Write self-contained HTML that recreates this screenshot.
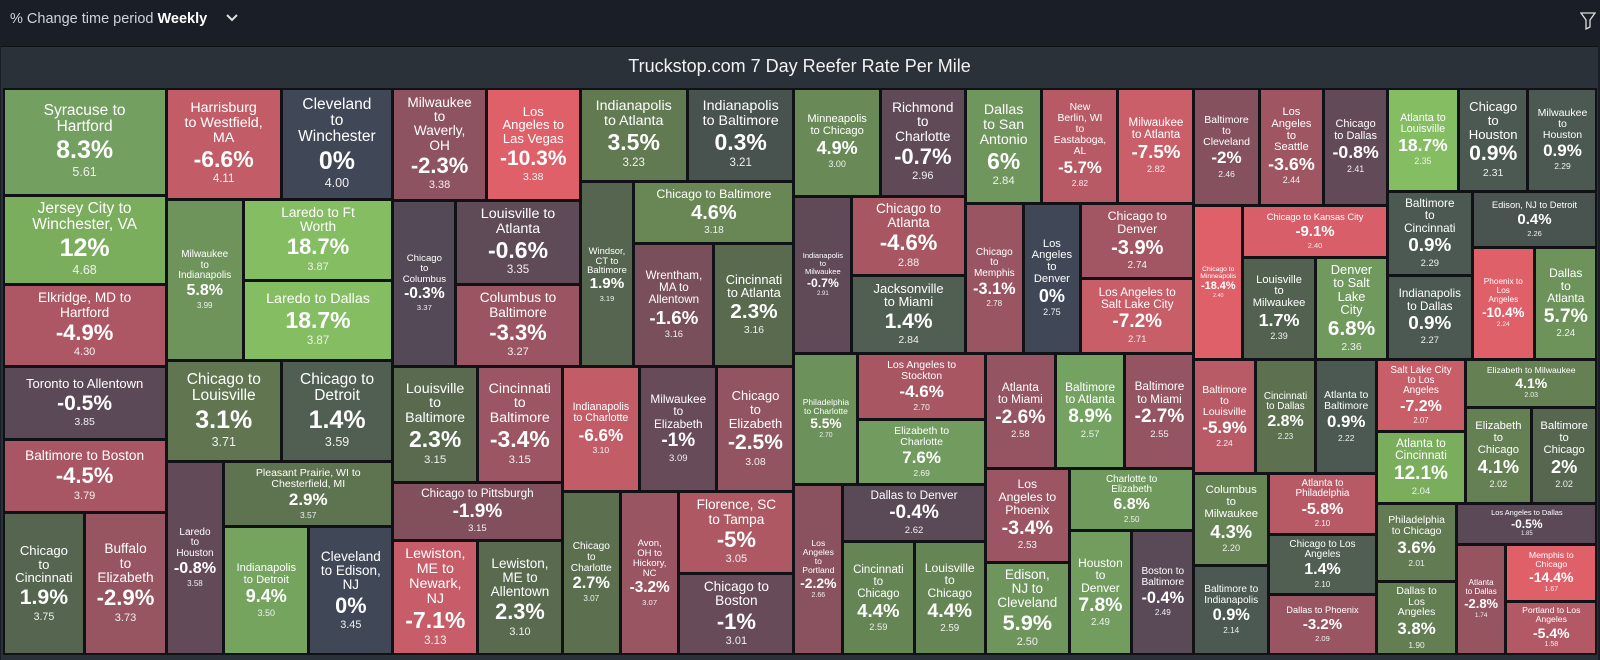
<!DOCTYPE html>
<html><head><meta charset="utf-8">
<style>
html,body{margin:0;padding:0;width:1600px;height:659px;overflow:hidden;background:#1a1f27;font-family:"Liberation Sans",sans-serif;}
#hdr{position:absolute;left:0;top:0;width:1600px;height:46px;background:#1a1f27;}
#hdr .t{position:absolute;left:10px;top:11px;font-size:14.5px;color:#d0d3d8;}
#hdr .t b{color:#fff;}
#panel{position:absolute;left:1px;top:46px;width:1597px;height:613px;background:#2b3139;border-top:1px solid #0e1013;}
#title{position:absolute;left:0;top:9px;width:100%;text-align:center;color:#f2f2f2;font-size:18px;}
#tm{position:absolute;left:3px;top:88px;width:1594px;height:567px;background:#101215;}
.cell{position:absolute;overflow:hidden;display:flex;flex-direction:column;align-items:center;justify-content:center;text-align:center;color:#fff;box-sizing:border-box;padding:2px 4px;}
.cell .lb{line-height:1.05;}
.cell .pc{font-weight:bold;line-height:1.2;}
.cell .rt{line-height:1.2;color:#f0f0f0;}
</style></head><body>
<div id="hdr">
  <div class="t">% Change time period <b>Weekly</b>
    <svg width="14" height="10" style="margin-left:14px" viewBox="0 0 14 10"><path d="M2 2 L7 7 L12 2" stroke="#e0e0e0" stroke-width="2" fill="none"/></svg></div>
  <svg style="position:absolute;left:1580px;top:12px" width="16" height="18" viewBox="0 0 16 18"><path d="M1 1 H15 L10 8 V15 L6 17 V8 Z" stroke="#ddd" stroke-width="1.3" fill="none"/></svg>
</div>
<div id="panel">
  <div id="title">Truckstop.com 7 Day Reefer Rate Per Mile</div>
</div>
<div id="tm"></div>
<script>
const labels=["Syracuse to Hartford","Jersey City to Winchester, VA","Elkridge, MD to Hartford","Toronto to Allentown","Baltimore to Boston","Chicago to Cincinnati","Buffalo to Elizabeth",
"Harrisburg to Westfield, MA","Cleveland to Winchester","Milwaukee to Indianapolis","Laredo to Ft Worth","Laredo to Dallas","Chicago to Louisville","Chicago to Detroit","Laredo to Houston","Pleasant Prairie, WI to Chesterfield, MI","Indianapolis to Detroit","Cleveland to Edison, NJ",
"Milwaukee to Waverly, OH","Los Angeles to Las Vegas","Chicago to Columbus","Louisville to Atlanta","Columbus to Baltimore",
"Indianapolis to Atlanta","Indianapolis to Baltimore","Windsor, CT to Baltimore","Chicago to Baltimore","Wrentham, MA to Allentown","Cincinnati to Atlanta",
"Louisville to Baltimore","Cincinnati to Baltimore","Chicago to Pittsburgh","Lewiston, ME to Newark, NJ","Lewiston, ME to Allentown",
"Indianapolis to Charlotte","Milwaukee to Elizabeth","Chicago to Elizabeth","Chicago to Charlotte","Avon, OH to Hickory, NC","Florence, SC to Tampa","Chicago to Boston",
"Minneapolis to Chicago","Richmond to Charlotte","Indianapolis to Milwaukee","Chicago to Atlanta","Jacksonville to Miami",
"Dallas to San Antonio","New Berlin, WI to Eastaboga, AL","Milwaukee to Atlanta","Chicago to Memphis","Los Angeles to Denver","Chicago to Denver","Los Angeles to Salt Lake City",
"Philadelphia to Charlotte","Los Angeles to Stockton","Elizabeth to Charlotte","Los Angeles to Portland","Dallas to Denver","Cincinnati to Chicago","Louisville to Chicago",
"Atlanta to Miami","Baltimore to Atlanta","Baltimore to Miami","Los Angeles to Phoenix","Edison, NJ to Cleveland","Charlotte to Elizabeth","Houston to Denver","Boston to Baltimore",
"Baltimore to Cleveland","Los Angeles to Seattle","Chicago to Dallas","Chicago to Minneapolis","Chicago to Kansas City","Louisville to Milwaukee","Denver to Salt Lake City",
"Atlanta to Louisville","Chicago to Houston","Milwaukee to Houston","Baltimore to Cincinnati","Indianapolis to Dallas","Edison, NJ to Detroit","Phoenix to Los Angeles","Dallas to Atlanta",
"Baltimore to Louisville","Cincinnati to Dallas","Atlanta to Baltimore","Columbus to Milwaukee","Baltimore to Indianapolis","Atlanta to Philadelphia","Chicago to Los Angeles","Dallas to Phoenix",
"Salt Lake City to Los Angeles","Atlanta to Cincinnati","Elizabeth to Milwaukee","Elizabeth to Chicago","Baltimore to Chicago","Philadelphia to Chicago","Dallas to Los Angeles","Los Angeles to Dallas","Atlanta to Dallas","Memphis to Chicago","Portland to Los Angeles"];
const pctChange=[8.3,12,-4.9,-0.5,-4.5,1.9,-2.9,
-6.6,0,5.8,18.7,18.7,3.1,1.4,-0.8,2.9,9.4,0,
-2.3,-10.3,-0.3,-0.6,-3.3,
3.5,0.3,1.9,4.6,-1.6,2.3,
2.3,-3.4,-1.9,-7.1,2.3,
-6.6,-1,-2.5,2.7,-3.2,-5,-1,
4.9,-0.7,-0.7,-4.6,1.4,
6,-5.7,-7.5,-3.1,0,-3.9,-7.2,
5.5,-4.6,7.6,-2.2,-0.4,4.4,4.4,
-2.6,8.9,-2.7,-3.4,5.9,6.8,7.8,-0.4,
-2,-3.6,-0.8,-18.4,-9.1,1.7,6.8,
18.7,0.9,0.9,0.9,0.9,0.4,-10.4,5.7,
-5.9,2.8,0.9,4.3,0.9,-5.8,1.4,-3.2,
-7.2,12.1,4.1,4.1,2,3.6,3.8,-0.5,-2.8,-14.4,-5.4];
const rates=[5.61,4.68,4.30,3.85,3.79,3.75,3.73,
4.11,4.00,3.99,3.87,3.87,3.71,3.59,3.58,3.57,3.50,3.45,
3.38,3.38,3.37,3.35,3.27,
3.23,3.21,3.19,3.18,3.16,3.16,
3.15,3.15,3.15,3.13,3.10,
3.10,3.09,3.08,3.07,3.07,3.05,3.01,
3.00,2.96,2.91,2.88,2.84,
2.84,2.82,2.82,2.78,2.75,2.74,2.71,
2.70,2.70,2.69,2.66,2.62,2.59,2.59,
2.58,2.57,2.55,2.53,2.50,2.50,2.49,2.49,
2.46,2.44,2.41,2.40,2.40,2.39,2.36,
2.35,2.31,2.29,2.29,2.27,2.26,2.24,2.24,
2.24,2.23,2.22,2.20,2.14,2.10,2.10,2.09,
2.07,2.04,2.03,2.02,2.02,2.01,1.90,1.85,1.74,1.67,1.58];

const H=(...c)=>({d:'h',c}), V=(...c)=>({d:'v',c});
const tree=H(
  V(0,1,2,3,4,H(5,6)),
  V(H(7,8),H(9,V(10,11)),H(12,13),H(14,V(15,H(16,17)))),
  V(H(V(H(18,19),H(20,V(21,22))), V(H(23,24),H(25,V(26,H(27,28))))),
    H(V(H(29,30),31,H(32,33)), V(H(34,35,36),H(37,38,V(39,40))))),
  V(H(V(H(41,42),H(43,V(44,45))), V(H(46,47,48),H(49,50,V(51,52)))),
    H(V(H(53,V(54,55)),H(56,V(57,H(58,59)))), V(H(60,61,62),H(V(63,64),V(65,H(66,67)))))),
  V(H(V(H(68,69,70),H(71,V(72,H(73,74)))), V(H(75,76,77),H(V(78,79),V(80,H(81,82))))),
    H(V(H(83,84,85),H(V(86,87),V(88,89,90))), V(H(V(91,92),V(93,H(94,95))),H(V(96,97),V(98,H(99,V(100,101)))))))
);

function total(n){return typeof n==='number'?rates[n]:n.c.reduce((s,c)=>s+total(c),0);}
const rects=[];
function layout(n,x,y,w,h){
  if(typeof n==='number'){rects.push({i:n,x,y,w,h});return;}
  const T=total(n);let off=0;
  n.c.forEach(c=>{const f=total(c)/T;
    if(n.d==='h'){layout(c,x+off,y,w*f,h);off+=w*f;}else{layout(c,x,y+off,w,h*f);off+=h*f;}});
}
layout(tree,0,0,1594,567);

function hex(c){return [1,3,5].map(k=>parseInt(c.substr(k,2),16));}
function lerpStops(stops,v){
  if(v<=stops[0][0])return stops[0][1];
  for(let k=1;k<stops.length;k++){if(v<=stops[k][0]){const a=stops[k-1],b=stops[k];const t=(v-a[0])/(b[0]-a[0]);
    const A=hex(a[1]),B=hex(b[1]);return 'rgb('+A.map((q,j)=>Math.round(q+(B[j]-q)*t)).join(',')+')';}}
  return stops[stops.length-1][1];
}
const posStops=[[0,'#404857'],[0.3,'#48524f'],[1,'#4c5a53'],[2,'#56664f'],[3,'#5f7450'],[4.5,'#678655'],[6,'#6f965c'],[8.5,'#73a060'],[12,'#7aae5c'],[18.7,'#84bd62']];
const negStops=[[0,'#404857'],[0.4,'#5a4957'],[1,'#684b58'],[2.5,'#935461'],[4.5,'#a85663'],[6.6,'#c25d68'],[10,'#e0606a']];
function color(p){return p>=0?lerpStops(posStops,p):lerpStops(negStops,-p);}

const tm=document.getElementById('tm');
rects.forEach(r=>{
  const d=document.createElement('div');
  d.className='cell';
  
  
  d.style.left=(r.x+1.5)+'px';d.style.top=(r.y+1.5)+'px';
  d.style.width=(r.w-3)+'px';d.style.height=(r.h-3)+'px';
  d.style.background=color(pctChange[r.i]);
  const lb=document.createElement('div');lb.className='lb';lb.textContent=labels[r.i];
  
  
  const pc=document.createElement('div');pc.className='pc';pc.textContent=pctChange[r.i]+'%';
  
  
  const rt=document.createElement('div');rt.className='rt';rt.textContent=rates[r.i].toFixed(2);
  
  
  d.appendChild(lb);d.appendChild(pc);d.appendChild(rt);
  tm.appendChild(d);
  let s=Math.min(1,(r.w-10)/100+0.25);
  const apply=()=>{lb.style.fontSize=(15.5*s)+'px';pc.style.fontSize=(25*s)+'px';rt.style.fontSize=(12.5*s)+'px';
    const padX=Math.max(3,Math.min(20,(r.w-3)*0.14));
    d.style.padding='2px '+padX+'px';};
  apply();
  const contentH=()=>lb.offsetHeight+pc.offsetHeight+rt.offsetHeight;
  let guard=0;
  while((contentH()>d.clientHeight-8||d.scrollWidth>d.clientWidth+1||lb.scrollWidth>lb.clientWidth+1)&&s>0.3&&guard<40){s-=0.04;apply();guard++;}
});
</script>
</body></html>
